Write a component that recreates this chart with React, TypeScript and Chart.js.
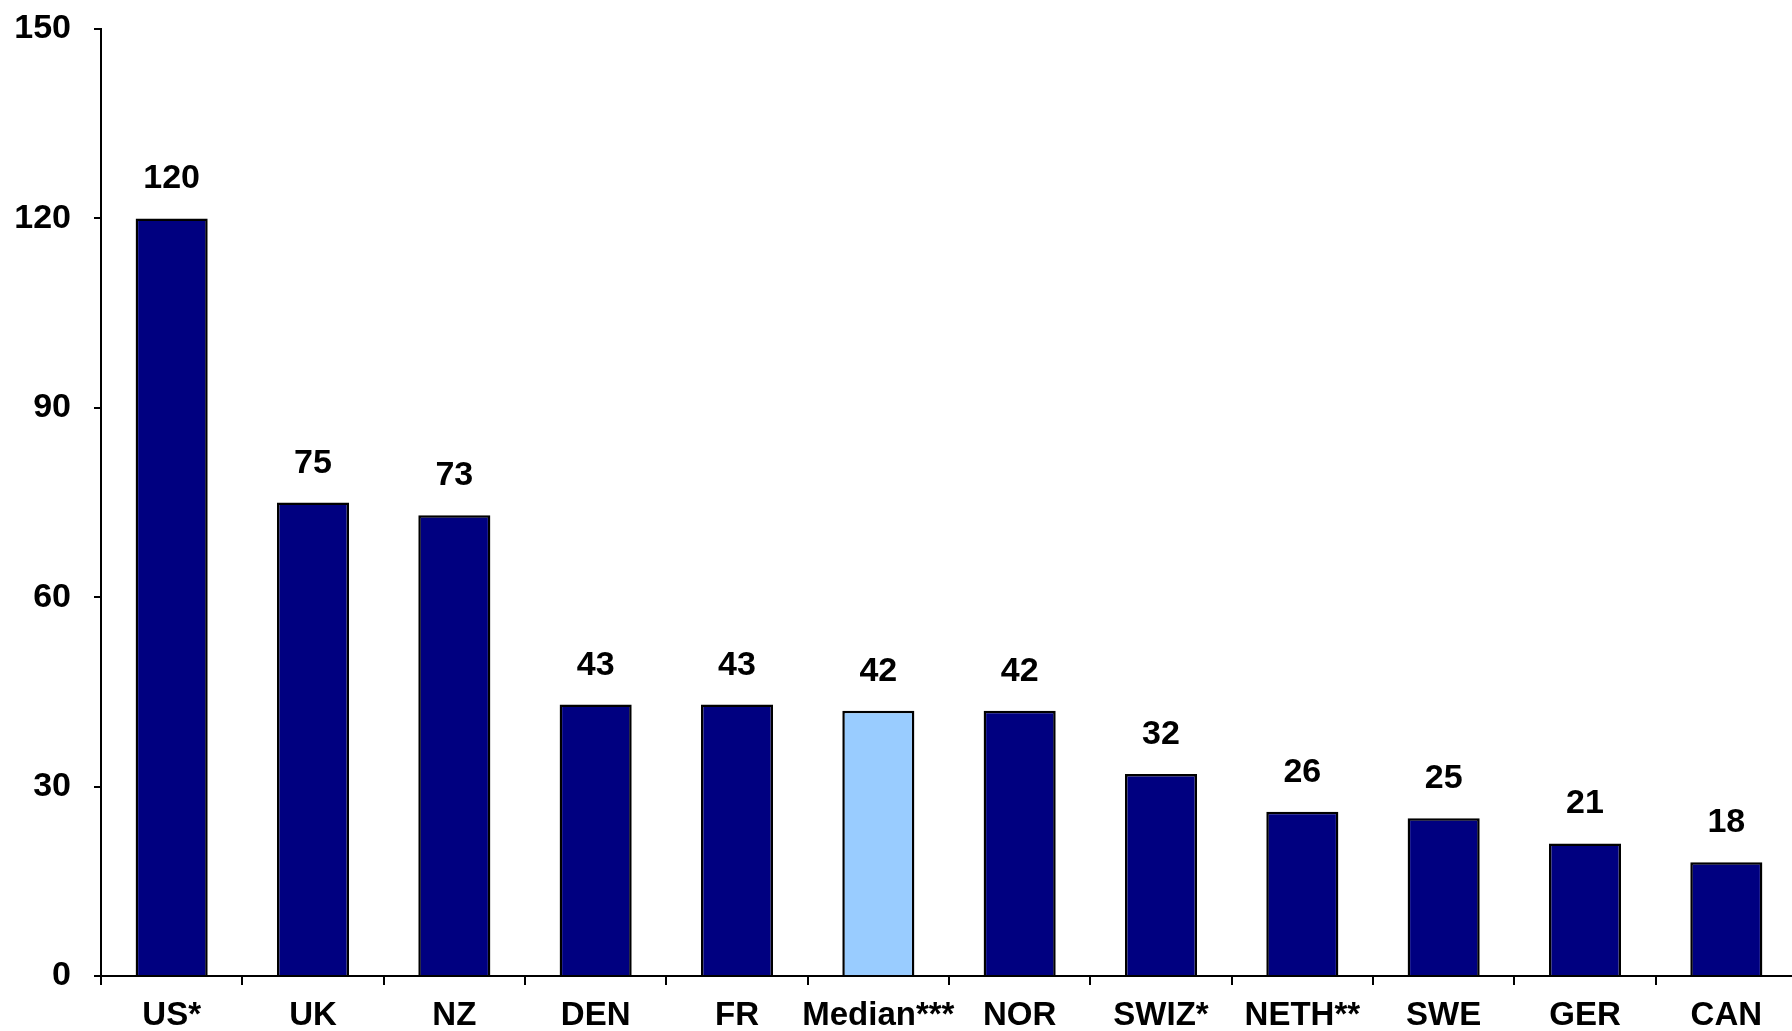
import React, { useEffect, useRef } from "react";
import { Chart, registerables } from "chart.js";

Chart.register(...registerables);

const categories = ["US*", "UK", "NZ", "DEN", "FR", "Median***", "NOR", "SWIZ*", "NETH**", "SWE", "GER", "CAN"];
const values = [120, 75, 73, 43, 43, 42, 42, 32, 26, 25, 21, 18];
const highlightIndex = 5;
const yTicks = [0, 30, 60, 90, 120, 150];

const FONT = "'Liberation Sans', Arial, Helvetica, sans-serif";
const NAVY = "#000080";
const LIGHT = "#99CCFF";

export default function App() {
  const ref = useRef<HTMLCanvasElement | null>(null);

  useEffect(() => {
    const canvas = ref.current;
    if (!canvas) return;

    const valueLabels = {
      id: "valueLabels",
      afterDatasetsDraw(chart: any) {
        const ctx = chart.ctx;
        const meta = chart.getDatasetMeta(0);
        ctx.save();
        ctx.font = `bold 34px ${FONT}`;
        ctx.fillStyle = "#000";
        ctx.textAlign = "center";
        ctx.textBaseline = "alphabetic";
        meta.data.forEach((bar: any, i: number) => {
          ctx.fillText(String(values[i]), bar.x, bar.y - 30);
        });
        ctx.restore();
      },
    };

    const chart = new Chart(canvas, {
      type: "bar",
      data: {
        labels: categories,
        datasets: [
          {
            data: values,
            backgroundColor: values.map((_, i) => (i === highlightIndex ? LIGHT : NAVY)),
            borderColor: "#000",
            borderWidth: 2.5,
            barPercentage: 0.51,
            categoryPercentage: 1,
          },
        ],
      },
      options: {
        responsive: false,
        animation: false,
        layout: { padding: { top: 29, left: 0, right: 0, bottom: 0 } },
        plugins: { legend: { display: false }, tooltip: { enabled: false } },
        scales: {
          x: {
            grid: {
              offset: true,
              drawOnChartArea: false,
              drawTicks: true,
              tickLength: 9,
              color: "#000",
              lineWidth: 2,
            },
            border: { display: true, color: "#000", width: 2 },
            ticks: {
              color: "#000",
              font: { family: FONT, size: 33, weight: "bold" },
              padding: 11,
              maxRotation: 0,
              autoSkip: false,
            },
            afterFit: (scale: any) => {
              scale.height = 55;
              scale.paddingLeft = 0;
              scale.paddingRight = 0;
            },
          },
          y: {
            min: 0,
            max: 150,
            afterBuildTicks: (scale: any) => {
              scale.ticks = yTicks.map((v) => ({ value: v }));
            },
            grid: {
              drawOnChartArea: false,
              drawTicks: true,
              tickLength: 7,
              color: "#000",
              lineWidth: 2,
            },
            border: { display: true, color: "#000", width: 2 },
            ticks: {
              color: "#000",
              font: { family: FONT, size: 34, weight: "bold" },
              padding: 23,
            },
            afterFit: (scale: any) => {
              scale.width = 101;
              scale.paddingTop = 0;
              scale.paddingBottom = 0;
            },
          },
        },
      },
      plugins: [valueLabels],
    });

    return () => chart.destroy();
  }, []);

  return (
    <div
      style={{
        position: "fixed",
        left: 0,
        top: 0,
        width: 1792,
        height: 1031,
        overflow: "hidden",
        background: "#fff",
      }}
    >
      <canvas ref={ref} width={1797} height={1031} style={{ display: "block" }} />
    </div>
  );
}
